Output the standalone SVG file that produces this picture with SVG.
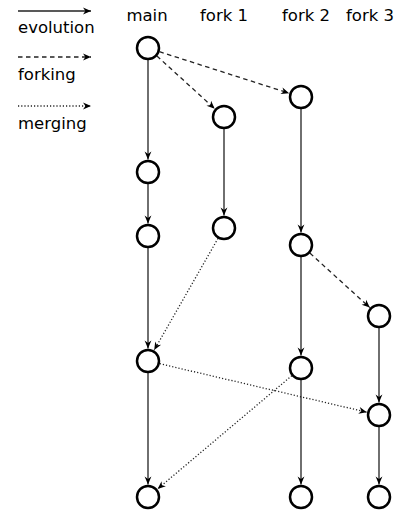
<svg xmlns="http://www.w3.org/2000/svg" width="407" height="512" viewBox="0 0 407 512">
<style>
text{font-family:"DejaVu Sans",sans-serif;font-size:16.5px;fill:#000}
.n{fill:#fff;stroke:#000;stroke-width:2.5}
.c{stroke:#222;stroke-width:1.3;fill:none;marker-end:url(#a)}
.d{stroke-dasharray:4.5 3.5}
.o{stroke-dasharray:1.2 2}
</style>
<defs>
<marker id="a" viewBox="-9 -5 10 10" refX="0" refY="0" markerWidth="10" markerHeight="10" orient="auto" markerUnits="userSpaceOnUse">
<path d="M0,0 L-8,-3.4 L-5.6,0 L-8,3.4 Z" fill="#000"/>
</marker>
</defs>
<g id="legend">
<line class="c" x1="18" y1="11" x2="91" y2="11"/>
<text x="18" y="33">evolution</text>
<line class="c d" x1="18" y1="57" x2="91" y2="57"/>
<text x="18" y="80">forking</text>
<line class="c o" x1="18" y1="106" x2="91" y2="106"/>
<text x="18" y="129">merging</text>
</g>
<g id="headers" text-anchor="middle">
<text x="147" y="21">main</text>
<text x="224" y="21">fork 1</text>
<text x="306" y="21">fork 2</text>
<text x="370" y="21">fork 3</text>
</g>
<g id="connectors">
<line class="c" x1="148" y1="60" x2="148" y2="159.5"/>
<line class="c" x1="148" y1="184" x2="148" y2="223.5"/>
<line class="c" x1="148" y1="248" x2="148" y2="348.5"/>
<line class="c" x1="148" y1="373" x2="148" y2="484.5"/>
<line class="c" x1="224" y1="129" x2="224" y2="215.5"/>
<line class="c" x1="301" y1="109" x2="301" y2="232.5"/>
<line class="c" x1="301" y1="257" x2="301" y2="355.5"/>
<line class="c" x1="301" y1="380" x2="301" y2="484.5"/>
<line class="c" x1="379" y1="328" x2="379" y2="402.5"/>
<line class="c" x1="379" y1="427" x2="379" y2="484.5"/>
<line class="c d" x1="156.9" y1="56" x2="214.7" y2="108.7"/>
<line class="c d" x1="159.4" y1="51.7" x2="289.1" y2="93.2"/>
<line class="c d" x1="309.9" y1="253.1" x2="369.8" y2="307.6"/>
<line class="c o" x1="218" y1="238.4" x2="154.2" y2="350.1"/>
<line class="c o" x1="159.7" y1="363.7" x2="366.8" y2="412.2"/>
<line class="c o" x1="291.8" y1="375.7" x2="157.6" y2="488.9"/>
</g>
<g id="main">
<circle class="n" cx="148" cy="48" r="11"/>
<circle class="n" cx="148" cy="172" r="11"/>
<circle class="n" cx="148" cy="236" r="11"/>
<circle class="n" cx="148" cy="361" r="11"/>
<circle class="n" cx="148" cy="497" r="11"/>
</g>
<g id="fork1">
<circle class="n" cx="224" cy="117" r="11"/>
<circle class="n" cx="224" cy="228" r="11"/>
</g>
<g id="fork2">
<circle class="n" cx="301" cy="97" r="11"/>
<circle class="n" cx="301" cy="245" r="11"/>
<circle class="n" cx="301" cy="368" r="11"/>
<circle class="n" cx="301" cy="497" r="11"/>
</g>
<g id="fork3">
<circle class="n" cx="379" cy="316" r="11"/>
<circle class="n" cx="379" cy="415" r="11"/>
<circle class="n" cx="379" cy="497" r="11"/>
</g>
</svg>
